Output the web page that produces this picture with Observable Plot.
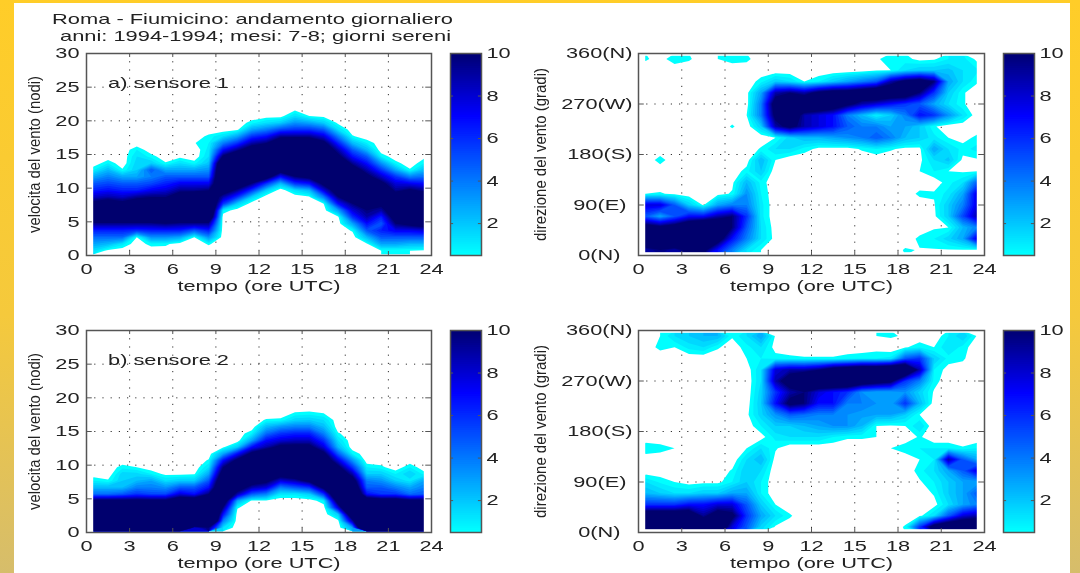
<!DOCTYPE html>
<html><head><meta charset="utf-8">
<script src="https://cdn.jsdelivr.net/npm/d3@7"></script>
<script src="https://cdn.jsdelivr.net/npm/@observablehq/plot@0.6"></script>
<style>
html,body{margin:0;padding:0;width:1080px;height:573px;overflow:hidden;background:linear-gradient(#ffcd28 0%,#f5c93c 55%,#d6bd6b 100%);}
#sheet{position:absolute;left:14px;top:3px;width:1056px;height:570px;background:#fff;}
.p{position:absolute;}
.p svg{display:block;overflow:visible;background:none;}
#title{position:absolute;left:0;top:0;filter:blur(.4px);}
#root{filter:blur(.45px);}
</style></head><body>
<div id="sheet"></div>
<svg id="title" width="520" height="50" style="font-family:'Liberation Sans';font-size:15px;fill:#222">
<text x="52" y="24" textLength="401" lengthAdjust="spacingAndGlyphs">Roma - Fiumicino: andamento giornaliero</text>
<text x="60" y="41" textLength="391" lengthAdjust="spacingAndGlyphs">anni: 1994-1994; mesi: 7-8; giorni sereni</text>
</svg>
<div id="root"></div>
<script>
const xTicks=[0,3,6,9,12,15,18,21,24];
const speedTicks=[0,5,10,15,20,25,30];
const dirTicks=[0,90,180,270,360];
const dirLabels=["0(N)\u00a0\u00a0","90(E)\u00a0","180(S)","270(W)","360(N)"];
const barTicks=[2,4,6,8,10];
const levels=[.5,1,1.5,2,2.5,3,3.5,4,4.5,5,5.5,6,6.5,7,7.5,8,8.5,9,9.5,10];

// sensor 1, speed: one list per hour (0.5 .. 23.5), bottom to top, knots 0.7, 1.7, ...
const speedA=[
[1.5,3,4.5,6.5,9.5,13,14,11,8.5,6.5,5,3,1],
[.2,2.5,4.5,6.5,9.5,13,14,12,9,7,5.5,4,2.5,1],
[0,1.2,4.5,6.5,9.5,13,14,11,8.5,6.5,5,3,.6],
[0,0,.5,6,9.5,13,14,12,9.5,6.5,5,3,2,1.8,1.5,1],
[0,.8,3.5,6.5,9.5,13,14,12.5,10,7.5,5.5,4,5,2,.8],
[0,.7,3.5,6.5,10,14,15,12.5,10,8,6.5,5,3,.6],
[0,0,3,6.5,9.5,14,16,14,12,9.5,7.5,5,3,1.5,.3],
[0,0,.5,5,9.5,14,16,15,13,9.5,7.5,5,3,.8,0,0,.45],
[0,.6,3.5,6.5,9.5,14,16,15,13,10,7.5,5,3.5,2.2,1.5,1.2,1,.7],
[0,0,0,0,0,0,1,6,9,12,15,16,16,15,10.5,7,4,1.5],
[0,0,0,0,0,0,0,2,6,9.5,13,16,17,16,14,9.5,6,3,.3],
[0,0,0,0,0,0,0,0,2,6,10,14,17,17,15,12,9,6,3,.8],
[0,0,0,0,0,0,0,0,0,2,6,12,15,18,18,14,10,7,4,1.5,.2],
[0,0,0,0,0,0,0,0,0,0,2.5,7,12,16,18,17,13,9.5,5.5,2,.2],
[0,0,0,0,0,0,0,0,0,1.5,6,10,13,16,17,16,14,9.5,6,3.5,1.5,.3],
[0,0,0,0,0,0,0,0,.4,2.5,7,11,14,16,17,15,13,9.5,6,3,.5],
[0,0,0,0,0,0,0,.5,4,8,11,13,15,16,15,13,11,8,5,2,.3],
[0,0,0,0,0,.3,3,7,10,12,14,15,15,14,11,9,6.5,4,1.5,.3],
[0,0,0,.6,3,6,8,10,12,13,14,14,12,9.5,7,5,2.5,.6],
[0,.3,2.5,5,7,9,10,12,13,13,12.5,11,9,7,5,2.5,1],
[.5,3,5,6.5,5,6.5,9,11,13,14,11,8.5,6,3.5,1],
[.5,3,5,7.5,10,12,13,13,12,9.5,8,6,3,.8],
[.5,2.5,5,7.5,11,14,15,15,14,10.5,7.5,4,.6],
[.3,2.5,5,8,12,14,15,15,13,9.5,7,4.5,2.5,1,.3]];

// sensor 2, speed
const speedB=[
[20,20,20,20,11,4.5,2.5,1],
[20,20,20,20,11,4.5,2.5,.6],
[20,20,20,20,11,5,2.5,2,1.8,.8],
[20,20,20,20,11,6,4,2.5,1.7,.5],
[20,20,20,20,11,5.5,4,3,1],
[20,20,20,20,11,5.5,3.5,1.5,.3],
[20,20,20,20,13,8,5,2,.3],
[8,20,20,20,13,7,5,2,.4],
[10,20,20,20,14,10,7,5,3,1.5,.6],
[1.5,4,7,10,13,15,15,14,12,10,7,3,.3],
[0,0,0,.6,3,9,12,14,15,14,11,7,2],
[0,0,0,0,.3,5,9,12,15,15,14,11,7,3,1],
[0,0,0,0,.3,4,8,11,14,16,15,13,9,7,4.5,2.5,.6],
[0,0,0,0,0,1.2,4,8,12,16,16,15,11,8,6,3.5,.7],
[0,0,0,0,0,1.2,5,9,13,16,16,15,11,8.5,6.5,4,1.8,.6],
[0,0,0,0,0,2,6,11,14,16,16,14,11,8.5,6.5,4,2,.7],
[0,0,0,0,1,6,11,14,15,15,13,11,8,6,4,2.5,1.5,.5],
[0,.2,2,8,12,15,15,15,13,11,8,5,2.5,1.5,.6],
[3,9,14,18,18,16,14,12,9,6,3.5,1],
[20,20,20,20,13,7,5,4,2,1],
[20,20,20,20,12,6,5,3.5,2,.7],
[20,20,20,20,12,6,4,2,1],
[20,20,20,20,11,4.5,3,1.3,2,1],
[20,20,20,20,11,5,4,3,.8]];

// sensor 1, direction: one list per 20-degree class, top (350) to bottom (10), hours 0.5 .. 23.5
const dirA=[
[.6,.2,.9,.6,.1,.5,.8,.7,0,0,0,0,0,0,0,0,.4,.8,.7,.3,.4,1,1.2,.3],
[0,0,0,0,0,0,0,0,0,0,0,0,0,0,0,.1,.4,.5,1.5,2,2,2.2,1.5,1.1],
[0,0,0,0,0,0,0,0,.8,2,1.5,.5,1,2,3,4,5,9,11,12,10,3,1.5,.6],
[0,0,0,0,0,0,0,.2,3,9,10,9,11,12,12,13,14,13,13,10,6,2,.6,0],
[0,0,0,0,0,0,0,.1,4,12,14,14,14,13,11,9,8,7,6,5,3,1.5,.6,0],
[0,0,0,0,0,0,0,.5,4,11,13,9,8,7,4,2.5,1,2,4,7,6,3.5,1.5,0],
[0,0,0,0,0,0,.6,0,2,9,11,9,8,7,5,4,4,3,3,2,.6,0,0,0],
[0,0,0,0,0,0,0,0,0,.5,1.8,2.5,2.5,3,3.5,4,5,4,2.5,2,1.2,.5,.2,.7],
[0,0,0,0,0,0,0,0,.6,1.5,1.5,.8,.3,.2,.2,.6,1,.6,.3,.3,3,1.5,.8,1.2],
[0,.8,0,0,0,0,0,.1,2.5,.5,0,0,0,0,0,0,0,0,0,.3,1.5,2.2,.3,.4],
[0,0,0,0,0,0,0,.8,2,0,0,0,0,0,0,0,0,0,0,.5,1,.5,.4,.5],
[0,0,0,0,0,0,.3,2.5,.8,0,0,0,0,0,0,0,0,0,0,0,.1,.8,1.5,5],
[.5,.6,.3,0,0,.2,.6,3.5,1,0,0,0,0,0,0,0,0,0,0,.7,.6,1.2,3,8],
[8,8,5,2,.4,3,4,4,1.2,0,0,0,0,0,0,0,0,0,0,0,.4,2,4,8],
[5,3,5,7,7,9,10,6,1.2,0,0,0,0,0,0,0,0,0,0,0,.3,2,5.5,9],
[12,11,12,14,16,14,10,5,1.5,.1,0,0,0,0,0,0,0,0,0,0,.4,.5,2.5,4],
[14,16,16,15,15,12,7,4,1.5,.2,0,0,0,0,0,0,0,0,0,.7,1,1.8,3,8],
[9,10,9,11,11,7,4,1.5,.5,0,0,0,0,0,0,0,0,0,.6,.45,.45,.45,.45,.45]];

// sensor 2, direction
const dirB=[
[0,.5,1.5,2,2.5,2.5,.6,1.5,3,.4,0,0,0,0,0,0,.5,.6,.4,0,0,1,2,.4],
[.1,.7,.5,1.2,1.5,.6,.1,.8,1.5,.2,0,0,0,0,0,0,.2,0,.4,.9,.5,1.5,.8,0],
[0,0,0,0,0,0,0,.5,1,.8,.7,.6,.6,.6,.8,1,1,1.2,5,6,2,.8,.6,0],
[0,0,0,0,0,0,0,.1,1.5,8,9,9,10,12,13,14,14,15,15,9,1,.2,.2,0],
[0,0,0,0,0,0,0,0,1.5,9,12,15,15,15,15,13,12,11,6,4,.8,0,0,0],
[0,0,0,0,0,0,0,0,1.8,6,9,10,8,7,6,3.5,3,3,3.5,1.8,.4,0,0,0],
[0,0,0,0,0,0,0,.1,2,7,11,10,7,7,4,4,3.5,3,6,2.5,.1,0,0,0],
[0,0,0,0,0,0,0,.3,1.8,3.5,5,4.5,4,4,3.5,3.2,3,3,2,.5,0,0,0,0],
[0,0,0,0,0,0,0,.1,1,2,2,2.5,3,3.5,3.5,2.5,.5,.4,.5,1.5,0,0,0,0],
[0,0,0,0,0,0,0,0,.2,1.2,1.5,1.5,1.5,1,.6,.6,.5,0,0,.6,0,0,0,0],
[1,.8,.5,0,.3,.5,0,.5,1.5,.6,0,0,0,0,0,0,0,.5,.9,1,1,1,.6,1],
[0,0,0,0,0,0,0,1.5,2.5,.2,0,0,0,0,0,0,0,0,0,.5,1,9,5,3],
[0,0,0,0,0,0,.6,2,1.5,0,0,0,0,0,0,0,0,0,0,.8,1.5,3,5,8],
[1.5,.9,.5,.2,.3,.3,1,2,1,0,0,0,0,0,0,0,0,0,0,.4,1,2,3,3],
[2.5,2,1.5,1.5,2,2,3,3,1,0,0,0,0,0,0,0,0,0,0,0,.6,2,3,5],
[6,6,6,7,7,8,8,5,2,.5,0,0,0,0,0,0,0,0,0,0,.2,1.5,3,4],
[13,13,13,13,9.5,12,11,6,3,1.5,.6,0,0,0,0,0,0,0,0,.3,1.5,5,8,9],
[14,14,14,14,14,14,8,5,1.8,.4,.1,0,0,0,0,0,0,0,.6,6,12,14,14,14]];

const colorScale={type:"linear",domain:[.5,7,10],range:["#00ffff","#0000ff","#00006e"]};
const FONT="'Liberation Sans'",INK="#222",EDGE="#555";
const root=document.getElementById("root");

function place(svg,left,top,yLabelLength){
  const d=document.createElement("div");d.className="p";d.style.left=left+"px";d.style.top=top+"px";
  d.appendChild(svg);root.appendChild(d);
  d.querySelectorAll("text").forEach(t=>{
    const tr=t.getAttribute("transform")||"";
    if(tr.includes("rotate")){
      t.style.fontSize="17px";
      t.setAttribute("textLength",yLabelLength);t.setAttribute("lengthAdjust","spacingAndGlyphs");
      return;
    }
    const n=t.getComputedTextLength();
    if(n>0){t.setAttribute("textLength",n*1.45);t.setAttribute("lengthAdjust","spacingAndGlyphs");}
  });
}

function speedPanel(cols,note,fx,fy){
  const nrow=22,ml=86,mt=10,w=345,h=202;
  const flat=[];
  for(let r=0;r<nrow;r++)for(let c=0;c<24;c++)flat.push(cols[c][r]||0);
  const svg=Plot.plot({width:w+ml+22,height:h+mt+46,marginLeft:ml,marginRight:22,marginTop:mt,marginBottom:46,
    style:{fontFamily:FONT,fontSize:"15px",color:INK,background:"none",overflow:"visible"},
    x:{domain:[0,24]},y:{domain:[0,30]},color:colorScale,
    marks:[
      Plot.ruleX(xTicks.slice(1,-1),{stroke:"#333",strokeDasharray:"1.2 7"}),
      Plot.ruleY(speedTicks.slice(1,-1),{stroke:"#333",strokeDasharray:"1.2 7"}),
      Plot.contour(flat,{width:24,height:nrow,x1:0,x2:24,y1:.2,y2:22.2,fill:Plot.identity,thresholds:levels}),
      Plot.rect([[0,.5],[23.5,24]],{x1:d=>d[0],x2:d=>d[1],y1:0,y2:30,fill:"#fff"}),
      Plot.ruleX(xTicks,{y1:0,y2:.6,stroke:EDGE}),Plot.ruleX(xTicks,{y1:30,y2:29.4,stroke:EDGE}),
      Plot.ruleY(speedTicks,{x1:0,x2:.4,stroke:EDGE}),Plot.ruleY(speedTicks,{x1:24,x2:23.6,stroke:EDGE}),
      Plot.text([note],{x:1.5,y:25.6,text:d=>d,textAnchor:"start",fill:INK}),
      Plot.frame({stroke:EDGE,strokeWidth:1.5}),
      Plot.axisX({ticks:xTicks,tickSize:0,tickPadding:8,label:"tempo (ore UTC)",labelAnchor:"center",labelArrow:"none",labelOffset:35}),
      Plot.axisY({ticks:speedTicks,tickSize:0,tickPadding:7,label:"velocita del vento (nodi)",labelAnchor:"center",labelArrow:"none",labelOffset:59})
    ]});
  place(svg,fx-ml,fy-mt,157);
}

function dirPanel(rows,fx,fy){
  const nrow=18,ml=120,mt=10,w=346,h=202;
  const flat=[];
  for(let r=nrow-1;r>=0;r--)for(let c=0;c<24;c++)flat.push(rows[r][c]);
  const svg=Plot.plot({width:w+ml+22,height:h+mt+46,marginLeft:ml,marginRight:22,marginTop:mt,marginBottom:46,
    style:{fontFamily:FONT,fontSize:"15px",color:INK,background:"none",overflow:"visible"},
    x:{domain:[0,24]},y:{domain:[0,360]},color:colorScale,
    marks:[
      Plot.ruleX(xTicks.slice(1,-1),{stroke:"#333",strokeDasharray:"1.2 7"}),
      Plot.ruleY(dirTicks.slice(1,-1),{stroke:"#333",strokeDasharray:"1.2 7"}),
      Plot.contour(flat,{width:24,height:nrow,x1:0,x2:24,y1:0,y2:360,fill:Plot.identity,thresholds:levels}),
      Plot.rect([[0,.5],[23.5,24]],{x1:d=>d[0],x2:d=>d[1],y1:0,y2:360,fill:"#fff"}),
      Plot.rect([[0,5],[355,360]],{y1:d=>d[0],y2:d=>d[1],x1:0,x2:24,fill:"#fff"}),
      Plot.ruleX(xTicks,{y1:0,y2:7,stroke:EDGE}),Plot.ruleX(xTicks,{y1:360,y2:353,stroke:EDGE}),
      Plot.ruleY(dirTicks,{x1:0,x2:.4,stroke:EDGE}),Plot.ruleY(dirTicks,{x1:24,x2:23.6,stroke:EDGE}),
      Plot.frame({stroke:EDGE,strokeWidth:1.5}),
      Plot.axisX({ticks:xTicks,tickSize:0,tickPadding:8,label:"tempo (ore UTC)",labelAnchor:"center",labelArrow:"none",labelOffset:35}),
      Plot.axisY({ticks:dirTicks,tickFormat:d=>dirLabels[dirTicks.indexOf(d)],tickSize:0,tickPadding:6,label:"direzione del vento (gradi)",labelAnchor:"center",labelArrow:"none",labelOffset:105})
    ]});
  place(svg,fx-ml,fy-mt,173);
}

function colorbar(fx,fy,w){
  const mt=10,mr=44,h=202;
  const strips=d3.range(.5,10,.1);
  const svg=Plot.plot({width:w+mr,height:h+mt+10,marginLeft:0,marginRight:mr,marginTop:mt,marginBottom:10,
    style:{fontFamily:FONT,fontSize:"15px",color:INK,background:"none",overflow:"visible"},
    x:{domain:[0,1],axis:null},y:{domain:[.5,10]},color:colorScale,
    marks:[
      Plot.rect(strips,{y1:d=>d,y2:10,x1:0,x2:1,fill:d=>d}),
      Plot.ruleY(barTicks,{x1:0,x2:.1,stroke:EDGE}),Plot.ruleY(barTicks,{x1:1,x2:.9,stroke:EDGE}),
      Plot.frame({stroke:EDGE,strokeWidth:1.5}),
      Plot.axisY({anchor:"right",ticks:barTicks,tickSize:0,tickPadding:5,label:null})
    ]});
  place(svg,fx,fy-mt,0);
}

speedPanel(speedA,"a) sensore 1",86,53);
dirPanel(dirA,638,53);
speedPanel(speedB,"b) sensore 2",86,330);
dirPanel(dirB,638,330);
colorbar(450,53,31);colorbar(1003,53,31);colorbar(450,330,31);colorbar(1003,330,31);
</script>
</body></html>
